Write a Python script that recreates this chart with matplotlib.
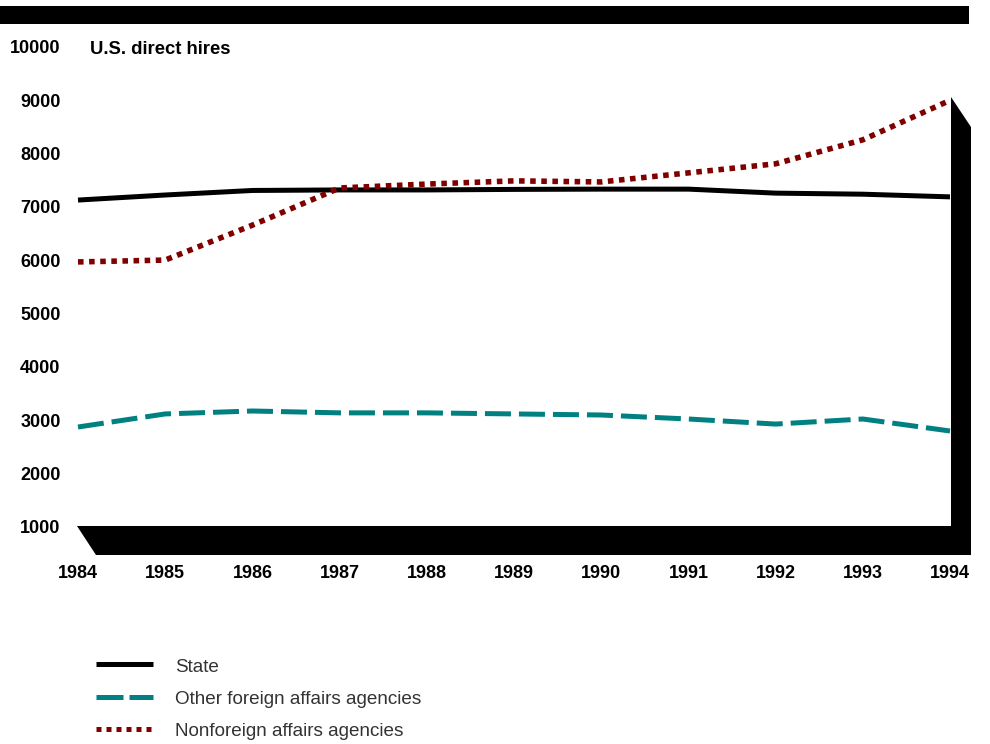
import matplotlib.pyplot as plt
from matplotlib.patches import Polygon, Rectangle
from matplotlib.lines import Line2D

plt.rcParams['font.family'] = ['Liberation Sans', 'DejaVu Sans']

# staff counts, 1984-1994
years = [1984, 1985, 1986, 1987, 1988, 1989, 1990, 1991, 1992, 1993, 1994]
state = [7130, 7225, 7310, 7320, 7320, 7330, 7335, 7335, 7260, 7240, 7190]
other_foreign = [2875, 3120, 3175, 3140, 3140, 3120, 3100, 3025, 2930, 3025, 2800]
nonforeign = [5970, 6005, 6660, 7357, 7430, 7490, 7470, 7640, 7810, 8260, 9000]

y_ticks = [1000, 2000, 3000, 4000, 5000, 6000, 7000, 8000, 9000, 10000]
series_names = ["State", "Other foreign affairs agencies", "Nonforeign affairs agencies"]

W, H = 990, 744
TEAL = "#008080"
MAROON = "#800000"

fig = plt.figure(figsize=(W / 100, H / 100), dpi=100)

# plot area in pixels: x 78..950, y 47..527
x0, x1, ytop, ybot = 78, 950, 47, 527
ax = fig.add_axes([x0 / W, (H - ybot) / H, (x1 - x0) / W, (ybot - ytop) / H])
ax.set_xlim(1984, 1994)
ax.set_ylim(1000, 10000)
ax.axis("off")

ax.plot(years, state, color="black", lw=3.6, solid_capstyle="butt", clip_on=False)
ax.plot(years, other_foreign, color=TEAL, lw=3.6, dashes=(5.2, 1.6),
        dash_capstyle="butt", clip_on=False)
ax.plot(years, nonforeign, color=MAROON, lw=4.0, dashes=(1, 1),
        dash_capstyle="butt", clip_on=False)

# tick labels
for v in y_ticks:
    ax.text(1984 - 0.2, v - 35, str(v), ha="right", va="center", fontsize=13,
            fontweight="bold", clip_on=False)
for yr in years:
    ax.text(yr, 1000 - 865, str(yr), ha="center", va="center", fontsize=13,
            fontweight="bold", clip_on=False)

# overlay in pixel coordinates for the frame pieces and the legend
ov = fig.add_axes([0, 0, 1, 1], facecolor="none")
ov.set_xlim(0, W)
ov.set_ylim(H, 0)
ov.axis("off")

ov.add_patch(Rectangle((0, 6), 969, 18, color="black", lw=0))
ov.add_patch(Polygon([(77, 526), (951, 526), (951, 97), (971, 127),
                      (971, 555), (96, 555)], closed=True, color="black", lw=0))

ov.text(90, 49.5, "U.S. direct hires", ha="left", va="center", fontsize=13.3,
        fontweight="bold")

# legend
styles = [dict(color="black"),
          dict(color=TEAL, dashes=(5.4, 1.2)),
          dict(color=MAROON, dashes=(1, 1))]
for i, (name, st) in enumerate(zip(series_names, styles)):
    yy = 664 + i * 32.5
    ov.add_line(Line2D([96, 153], [yy, yy], lw=3.6, solid_capstyle="butt",
                       dash_capstyle="butt", **st))
    ov.text(175, yy + 3, name, ha="left", va="center", fontsize=13.6,
            color="#333333")

fig.savefig("out.png", dpi=100)
